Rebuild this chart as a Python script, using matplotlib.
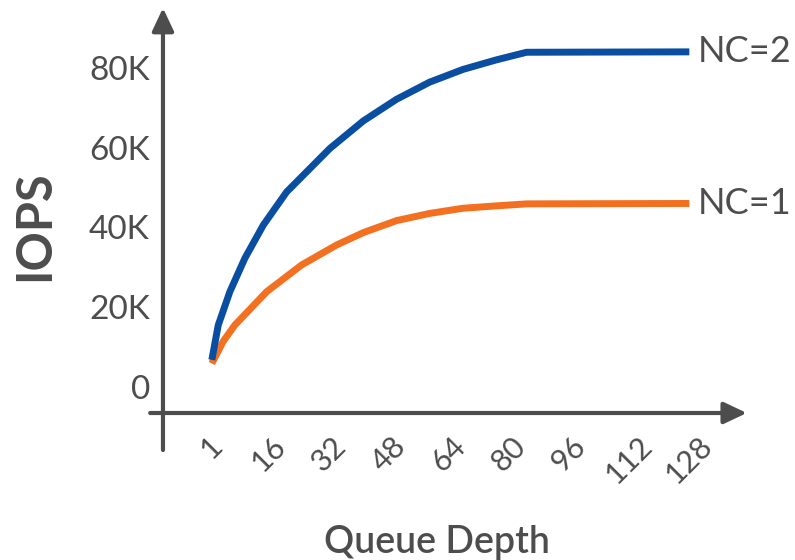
import matplotlib.pyplot as plt
from matplotlib.ticker import FuncFormatter

import sys

# queue depth ticks
queue_depths = [1, 16, 32, 48, 64, 80, 96, 112, 128]

# IOPS measured against queue depth, one controller vs two
nc2_depth = [1, 2.7, 5.8, 9.8, 14.7, 20.9, 32.4, 41.3, 50.1, 58.9, 67.8, 76.7, 84.7, 128]
nc2_iops = [6800, 15500, 23900, 32300, 40600, 48900, 59800, 66700, 72100, 76400, 79600, 82000, 83900, 84000]

nc1_depth = [1, 4.0, 7.1, 15.6, 24.9, 34.2, 41.3, 50.1, 58.9, 67.8, 76.7, 84.7, 128]
nc1_iops = [5900, 11400, 15500, 23900, 30600, 35600, 38700, 41700, 43500, 44800, 45400, 45900, 46000]

GREY = '#4d4d4d'
BLUE = '#0a4ea2'
ORANGE = '#f37021'


def draw_arrow(ax, start, end):
    ax.annotate('', xy=end, xytext=start, xycoords='data', annotation_clip=False,
                arrowprops=dict(arrowstyle='-|>,head_length=0.7,head_width=0.33',
                                mutation_scale=20, lw=3, color=GREY,
                                shrinkA=0, shrinkB=0))


def graph_data():
    plt.rcParams['font.family'] = ['Lato', 'DejaVu Sans']

    fig = plt.figure(figsize=(7.95, 5.6), dpi=100)
    ax = fig.add_axes([0.205, 0.2625, 0.751, 0.7375])
    ax.set_xlim(-12.0, 146.8)
    ax.set_ylim(-6520, 97000)

    for side in ax.spines.values():
        side.set_visible(False)

    # axis lines with arrow heads
    draw_arrow(ax, (-15.4, -6520), (143.3, -6520))
    draw_arrow(ax, (-12.0, -15800), (-12.0, 95000))

    ax.plot(nc1_depth, nc1_iops, color=ORANGE, lw=5, solid_capstyle='butt', solid_joinstyle='round')
    ax.plot(nc2_depth, nc2_iops, color=BLUE, lw=5, solid_capstyle='butt', solid_joinstyle='round')

    for depth, iops, label in [(nc2_depth, nc2_iops, 'NC=2'), (nc1_depth, nc1_iops, 'NC=1')]:
        ax.annotate(label, xy=(depth[-1], iops[-1]), xytext=(6, 0), textcoords='offset points',
                    ha='left', va='center', fontsize=26, color=GREY, annotation_clip=False)

    ax.set_yticks([0, 20000, 40000, 60000, 80000])
    ax.yaxis.set_major_formatter(FuncFormatter(lambda v, pos: '0' if v == 0 else f'{int(v / 1000)}K'))
    ax.set_xticks(queue_depths)
    ax.set_xticklabels([str(q) for q in queue_depths], rotation=45, ha='center')
    ax.tick_params(axis='y', length=0, pad=9.4, labelsize=24, labelcolor=GREY)
    ax.tick_params(axis='x', length=0, pad=13.5, labelsize=22, labelcolor=GREY)

    fig.text(35 / 795, 1 - 226 / 560, 'IOPS', rotation=90, ha='center', va='center',
             fontsize=35, fontweight='bold', color=GREY)
    fig.text(437 / 795, 1 - 543 / 560, 'Queue Depth', ha='center', va='center',
             fontsize=27, fontweight='semibold', color=GREY)

    plt.savefig('out.png', dpi=100)


def main():
    graph_data()


if __name__ == '__main__':
    sys.exit(main())
